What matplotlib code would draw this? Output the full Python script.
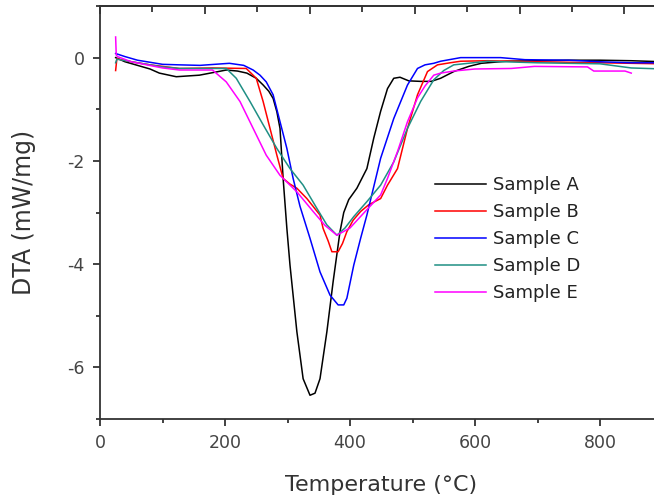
import matplotlib
matplotlib.use("Agg")
import matplotlib.pyplot as plt
from matplotlib.ticker import MultipleLocator

# --------------------------------------------------
# DATA
# --------------------------------------------------
labels = ["Sample A", "Sample B", "Sample C", "Sample D", "Sample E"]
colors = ["#000000", "#ff0000", "#0000ff", "#1f8f84", "#ff00ff"]

temp_a = [25, 40, 60, 80, 95, 122, 159, 185, 202, 220, 235, 250, 261, 270, 277, 283, 288,
          293, 299, 304, 315, 325, 336, 344, 352, 363, 373, 384, 390, 398, 411, 427, 438,
          449, 460, 470, 480, 494, 513, 530, 545, 566, 590, 610, 650, 700, 750, 800, 850, 900]
dta_a = [0.0, -0.08, -0.15, -0.22, -0.30, -0.37, -0.34, -0.28, -0.24, -0.26, -0.30, -0.40,
         -0.53, -0.65, -0.79, -1.05, -1.37, -2.34, -3.31, -4.02, -5.31, -6.22, -6.54, -6.50,
         -6.22, -5.31, -4.34, -3.37, -3.00, -2.75, -2.53, -2.15, -1.56, -1.04, -0.60, -0.40,
         -0.38, -0.45, -0.46, -0.46, -0.40, -0.27, -0.17, -0.11, -0.07, -0.06, -0.05, -0.05,
         -0.06, -0.08]

temp_b = [25, 27, 50, 80, 127, 180, 234, 250, 261, 272, 283, 293, 304, 315, 331, 352, 357,
          365, 371, 381, 388, 395, 405, 417, 430, 449, 460, 476, 492, 508, 524, 540, 560,
          577, 620, 700, 800, 900]
dta_b = [-0.25, -0.02, -0.08, -0.14, -0.21, -0.20, -0.21, -0.40, -0.85, -1.37, -1.89, -2.34,
         -2.45, -2.53, -2.73, -3.05, -3.31, -3.55, -3.76, -3.76, -3.60, -3.37, -3.15, -2.98,
         -2.85, -2.73, -2.47, -2.15, -1.37, -0.72, -0.27, -0.14, -0.10, -0.07, -0.06, -0.08,
         -0.10, -0.12]

temp_c = [25, 40, 60, 100, 127, 160, 207, 230, 245, 256, 266, 277, 288, 299, 309, 320, 336,
          352, 368, 381, 390, 395, 406, 417, 427, 438, 449, 470, 492, 508, 520, 534, 545,
          577, 641, 680, 750, 800, 850, 900]
dta_c = [0.08, 0.02, -0.05, -0.13, -0.14, -0.15, -0.11, -0.15, -0.24, -0.34, -0.47, -0.72,
         -1.24, -1.76, -2.34, -2.88, -3.50, -4.15, -4.60, -4.79, -4.79, -4.66, -4.02, -3.50,
         -3.05, -2.50, -1.95, -1.18, -0.53, -0.21, -0.14, -0.11, -0.07, 0.0, 0.0, -0.04,
         -0.05, -0.08, -0.10, -0.10]

temp_d = [25, 27, 60, 100, 127, 202, 218, 240, 261, 283, 304, 325, 347, 363, 379, 392, 406,
          427, 449, 470, 492, 513, 534, 550, 566, 620, 700, 800, 850, 900]
dta_d = [-0.10, -0.03, -0.10, -0.18, -0.21, -0.21, -0.40, -0.85, -1.30, -1.76, -2.15, -2.47,
         -2.92, -3.24, -3.44, -3.30, -3.08, -2.79, -2.47, -2.02, -1.37, -0.85, -0.43, -0.25,
         -0.14, -0.07, -0.10, -0.12, -0.20, -0.22]

temp_e = [25, 26, 28, 50, 100, 127, 180, 202, 224, 245, 266, 288, 315, 341, 360, 379, 400,
          419, 449, 460, 476, 492, 508, 520, 534, 545, 566, 600, 658, 695, 780, 790, 840, 850]
dta_e = [0.40, 0.05, 0.02, -0.08, -0.20, -0.24, -0.24, -0.47, -0.85, -1.37, -1.89, -2.28,
         -2.60, -2.98, -3.25, -3.44, -3.30, -3.05, -2.66, -2.34, -1.82, -1.24, -0.78, -0.55,
         -0.34, -0.30, -0.26, -0.22, -0.21, -0.17, -0.18, -0.26, -0.26, -0.30]

series = [(temp_a, dta_a), (temp_b, dta_b), (temp_c, dta_c), (temp_d, dta_d), (temp_e, dta_e)]

# --------------------------------------------------
# FIGURE
# --------------------------------------------------
plt.rcParams["font.family"] = "DejaVu Sans"
plt.rcParams["axes.unicode_minus"] = False

W, H = 654, 501
fig = plt.figure(figsize=(W / 100, H / 100), dpi=100)

# axes box in pixels: x from 100 to 662 (0..900), y from 6 to 419
ax = fig.add_axes([100 / W, 1 - 419 / H, 562.5 / W, 413 / H])

for (t, d), lab, col in zip(series, labels, colors):
    ax.plot(t, d, color=col, lw=1.1, label=lab)

ax.set_xlim(0, 900)
ax.set_ylim(-7, 1)

spine_col = "#333333"
for side in ["left", "bottom", "top", "right"]:
    ax.spines[side].set_linewidth(1.3)
    ax.spines[side].set_color(spine_col)

ax.xaxis.set_major_locator(MultipleLocator(200))
ax.xaxis.set_minor_locator(MultipleLocator(100))
ax.yaxis.set_major_locator(MultipleLocator(2))
ax.yaxis.set_minor_locator(MultipleLocator(1))
ax.tick_params(which="major", direction="out", length=5, width=1.3, color=spine_col,
               labelsize=12.5, labelcolor="#444444", pad=6)
ax.tick_params(which="minor", direction="out", length=3, width=1.3, color=spine_col)
ax.tick_params(top=False, right=False, which="both")

# top axis carries its own (unlabelled) scale, ticks pointing inward
top = ax.twiny()
top.set_xlim(0, 900 / 83.9)
top.xaxis.set_major_locator(MultipleLocator(2))
top.xaxis.set_minor_locator(MultipleLocator(1))
top.xaxis.set_ticks_position("top")
top.tick_params(which="both", labeltop=False, direction="in", width=1.3, color=spine_col)
top.tick_params(which="major", length=6)
top.tick_params(which="minor", length=4)
for side in ["left", "bottom", "right"]:
    top.spines[side].set_visible(False)
top.spines["top"].set_linewidth(1.3)
top.spines["top"].set_color(spine_col)

fig.text(381 / W, 1 - 485 / H, "Temperature (°C)", fontsize=16, color="#333333",
         ha="center", va="center")
fig.text(24 / W, 1 - 212 / H, "DTA (mW/mg)", fontsize=17, color="#333333",
         ha="center", va="center", rotation=90)

leg = ax.legend(loc="upper left", bbox_to_anchor=(435 / W, 1 - 176 / H),
                bbox_transform=fig.transFigure, frameon=False, fontsize=13,
                handlelength=2.8, handletextpad=0.4, labelspacing=0.5,
                borderpad=0, borderaxespad=0)
for txt in leg.get_texts():
    txt.set_color("#222222")

fig.savefig("out.png", dpi=100)
